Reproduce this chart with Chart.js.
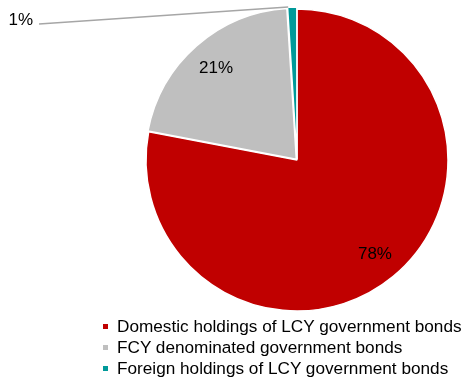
<!DOCTYPE html>
<html>
<head>
<meta charset="utf-8">
<script src="https://cdn.jsdelivr.net/npm/chart.js@4"></script>
<style>
  html, body { margin:0; padding:0; background:#fff; }
  #wrap { position:relative; width:466px; height:378px; overflow:hidden; }
  #ch { position:absolute; left:0; top:0; }
  #lg { position:absolute; left:103px; top:316px; font-family:"Liberation Sans", Arial, sans-serif; font-size:17.2px; color:#000; }
  .li { height:21px; line-height:21px; white-space:nowrap; }
  .mk { display:inline-block; width:5px; height:5px; margin-right:9px; vertical-align:middle; position:relative; top:-1px; }
</style>
</head>
<body>
<div id="wrap">
  <canvas id="ch" width="466" height="378"></canvas>
  <div id="lg"></div>
</div>
<script>
const labels = ['Domestic holdings of LCY government bonds', 'FCY denominated government bonds', 'Foreign holdings of LCY government bonds'];
const shares = [78, 21, 1];
const colors = ['#C00000', '#BFBFBF', '#009999'];

// legend
document.getElementById('lg').innerHTML = labels.map((l, i) =>
  '<div class="li"><span class="mk" style="background:' + colors[i] + '"></span>' + l + '</div>').join('');

const sliceLabels = {
  id: 'sliceLabels',
  afterDatasetsDraw(chart) {
    const ctx = chart.ctx;
    const arcs = chart.getDatasetMeta(0).data;
    ctx.save();
    ctx.font = '17px "Liberation Sans", Arial, sans-serif';
    ctx.fillStyle = '#000';
    arcs.forEach((a, i) => {
      const mid = (a.startAngle + a.endAngle) / 2;
      const r = a.outerRadius;
      if (i < 2) {
        ctx.textAlign = 'center';
        ctx.textBaseline = 'middle';
        ctx.fillText(shares[i] + '%', a.x + Math.cos(mid) * r * 0.81, a.y + Math.sin(mid) * r * 0.81);
      } else {
        const ex = a.x + Math.cos(mid) * (r + 2) - 4, ey = a.y + Math.sin(mid) * (r + 2);
        const lx = 39, ly = ey + 17;
        ctx.strokeStyle = '#A6A6A6';
        ctx.lineWidth = 1.5;
        ctx.beginPath();
        ctx.moveTo(ex, ey);
        ctx.lineTo(lx, ly);
        ctx.stroke();
        ctx.textAlign = 'right';
        ctx.textBaseline = 'middle';
        ctx.fillText(shares[i] + '%', lx - 6, ly - 4);
      }
    });
    ctx.restore();
  }
};

new Chart(document.getElementById('ch').getContext('2d'), {
  type: 'pie',
  data: {
    labels: labels,
    datasets: [{
      data: shares,
      backgroundColor: colors,
      borderColor: '#fff',
      borderWidth: 1.5,
      offset: [0, 4, 4],
      radius: 151
    }]
  },
  options: {
    responsive: false,
    animation: false,
    layout: { padding: { left: 145, right: 17, top: 8, bottom: 66 } },
    plugins: { legend: { display: false }, tooltip: { enabled: false } }
  },
  plugins: [sliceLabels]
});
</script>
</body>
</html>
